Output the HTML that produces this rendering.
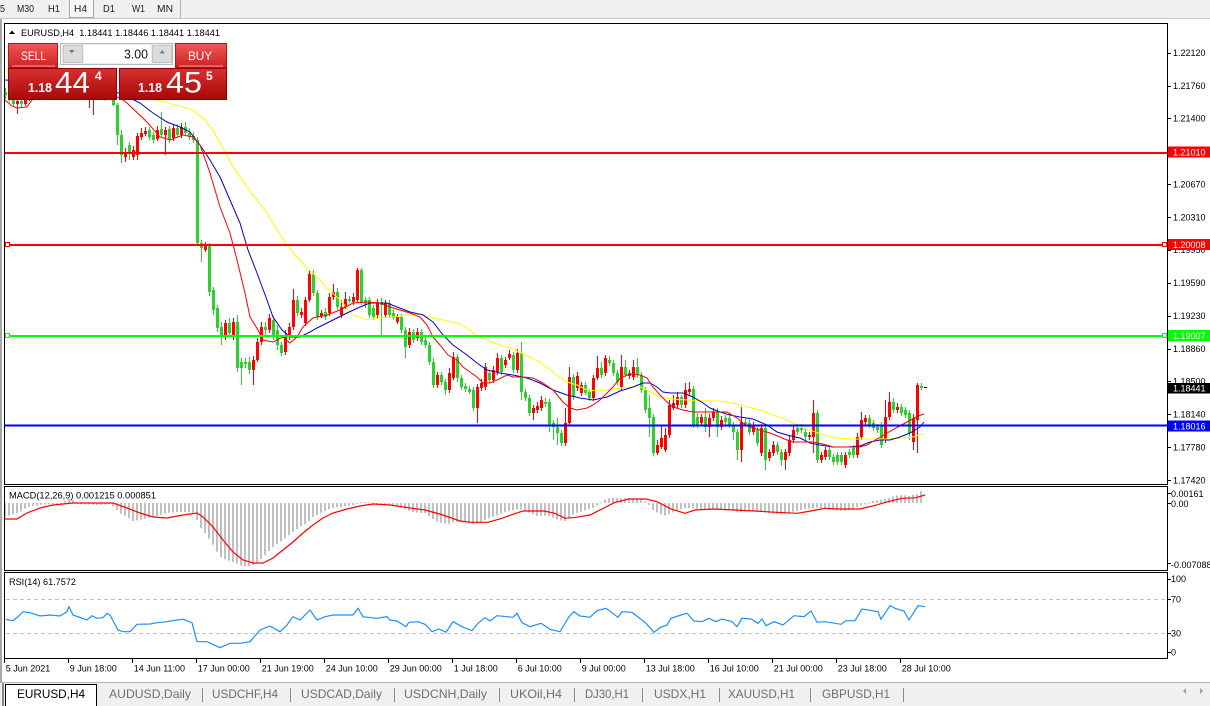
<!DOCTYPE html>
<html><head><meta charset="utf-8">
<style>
html,body{margin:0;padding:0;width:1210px;height:706px;overflow:hidden;background:#fff;}
svg text{font-family:"Liberation Sans",sans-serif;}
</style></head><body>
<svg id="s" width="1210" height="706" viewBox="0 0 1210 706" xmlns="http://www.w3.org/2000/svg">
<defs>
<clipPath id="cm"><rect x="5" y="24" width="1162" height="460"/></clipPath>
<clipPath id="cmd"><rect x="5" y="487" width="1162" height="83"/></clipPath>
<clipPath id="crs"><rect x="5" y="573" width="1162" height="85"/></clipPath>
<linearGradient id="gb" x1="0" y1="0" x2="0" y2="1"><stop offset="0" stop-color="#F25656"/><stop offset="1" stop-color="#CC2222"/></linearGradient>
<linearGradient id="gp" x1="0" y1="0" x2="0" y2="1"><stop offset="0" stop-color="#D93030"/><stop offset="1" stop-color="#A80808"/></linearGradient>
</defs>

<!-- toolbar -->
<rect x="0" y="0" width="1210" height="18" fill="#F0F0F0"/>
<line x1="0" y1="18.5" x2="1210" y2="18.5" stroke="#C8C8C8"/>
<rect x="69.5" y="-0.5" width="24" height="18" fill="#F6F6F6" stroke="#A8A8A8"/>
<line x1="180.5" y1="0" x2="180.5" y2="18" stroke="#B0B0B0"/>
<g font-size="10.5" fill="#202020">
<text x="-5" y="12" textLength="10" lengthAdjust="spacingAndGlyphs">15</text>
<text x="17" y="12" textLength="17" lengthAdjust="spacingAndGlyphs">M30</text>
<text x="48" y="12" textLength="12" lengthAdjust="spacingAndGlyphs">H1</text>
<text x="74" y="12" textLength="13" lengthAdjust="spacingAndGlyphs">H4</text>
<text x="103" y="12" textLength="12" lengthAdjust="spacingAndGlyphs">D1</text>
<text x="132" y="12" textLength="13" lengthAdjust="spacingAndGlyphs">W1</text>
<text x="157" y="12" textLength="16" lengthAdjust="spacingAndGlyphs">MN</text>
</g>

<!-- left window border -->
<rect x="0" y="19" width="2" height="663" fill="#A8A8A8"/>

<!-- panel frames -->
<rect x="4.5" y="23.5" width="1163" height="461" fill="none" stroke="#000"/>
<rect x="4.5" y="486.5" width="1163" height="84" fill="none" stroke="#000"/>
<rect x="4.5" y="572.5" width="1163" height="86" fill="none" stroke="#000"/>

<!-- RSI levels -->
<g stroke="#C0C0C0" stroke-dasharray="4,3">
<line x1="6" y1="599.5" x2="1167" y2="599.5"/>
<line x1="6" y1="633.5" x2="1167" y2="633.5"/>
</g>

<g id="macd" clip-path="url(#cmd)"></g>
<g id="rsi" clip-path="url(#crs)"></g>
<g id="main" clip-path="url(#cm)"></g>

<!-- horizontal lines -->
<g clip-path="url(#cm)">
<rect x="5" y="152" width="1162" height="2" fill="#FF0000"/>
<rect x="5" y="244" width="1162" height="2" fill="#FF0000"/>
<rect x="5" y="335" width="1162" height="2" fill="#00FF00"/>
<rect x="5" y="424.5" width="1162" height="2" fill="#0000FF"/>
<rect x="5.5" y="242.5" width="4" height="4" fill="#fff" stroke="#FF0000"/>
<rect x="1162.5" y="242.5" width="4" height="4" fill="#fff" stroke="#FF0000"/>
<rect x="5.5" y="333.5" width="4" height="4" fill="#fff" stroke="#00FF00"/>
<rect x="1162.5" y="333.5" width="4" height="4" fill="#fff" stroke="#00FF00"/>
<rect x="924" y="387" width="3" height="1" fill="#000"/>
</g>

<!-- header -->
<polygon points="9,34 15,34 12,30.5" fill="#000"/>
<text x="21" y="36" font-size="9" fill="#000" textLength="199" lengthAdjust="spacingAndGlyphs" xml:space="preserve">EURUSD,H4  1.18441 1.18446 1.18441 1.18441</text>

<!-- trade panel -->
<rect x="8.5" y="43.5" width="49" height="24" fill="url(#gb)" stroke="#B01818"/>
<line x1="12" y1="66" x2="55" y2="66" stroke="#F4A0A0"/>
<text x="21" y="60" font-size="12" fill="#fff" textLength="25" lengthAdjust="spacingAndGlyphs">SELL</text>
<rect x="175.5" y="43.5" width="51" height="24" fill="url(#gb)" stroke="#B01818"/>
<line x1="179" y1="66" x2="223" y2="66" stroke="#F4A0A0"/>
<text x="188" y="60" font-size="12" fill="#fff" textLength="24" lengthAdjust="spacingAndGlyphs">BUY</text>
<rect x="60.5" y="43.5" width="112" height="21" fill="#EEEEEE" stroke="#B8B8B8"/>
<rect x="63.5" y="45.5" width="19" height="17" fill="#DCDCDC" stroke="#C4C4C4"/>
<rect x="84" y="45" width="67" height="18" fill="#fff"/>
<rect x="152.5" y="45.5" width="19" height="17" fill="#DCDCDC" stroke="#C4C4C4"/>
<polygon points="69,50 74.5,50 71.7,53.5" fill="#6A78A8"/>
<polygon points="159.5,53.5 165,53.5 162.2,50" fill="#6A78A8"/>
<text x="124" y="58.5" font-size="12.5" fill="#111" textLength="24" lengthAdjust="spacingAndGlyphs">3.00</text>
<rect x="8.5" y="68.5" width="108" height="31" fill="url(#gp)" stroke="#8C0000"/>
<rect x="119.5" y="68.5" width="107" height="31" fill="url(#gp)" stroke="#8C0000"/>
<g fill="#fff">
<text x="28" y="92" font-size="13" font-weight="bold" textLength="24" lengthAdjust="spacingAndGlyphs">1.18</text>
<text x="55" y="92.5" font-size="30" textLength="35" lengthAdjust="spacingAndGlyphs">44</text>
<text x="95" y="80" font-size="12" font-weight="bold">4</text>
<text x="138" y="92" font-size="13" font-weight="bold" textLength="24" lengthAdjust="spacingAndGlyphs">1.18</text>
<text x="166" y="92.5" font-size="30" textLength="36" lengthAdjust="spacingAndGlyphs">45</text>
<text x="206" y="80" font-size="12" font-weight="bold">5</text>
</g>

<!-- price axis -->
<g id="pax" font-size="9" fill="#000"></g>
<g font-size="9" fill="#fff">
<rect x="1168" y="146.5" width="42" height="11" fill="#FF0000"/><text x="1173" y="155.5">1.21010</text>
<rect x="1168" y="239" width="42" height="11" fill="#FF0000"/><text x="1173" y="248">1.20008</text>
<rect x="1168" y="330" width="42" height="11" fill="#00FF00"/><text x="1173" y="339">1.19007</text>
<rect x="1168" y="383" width="42" height="10.5" fill="#000"/><text x="1173" y="391.7">1.18441</text>
<rect x="1168" y="420.5" width="42" height="11" fill="#0000FF"/><text x="1173" y="429.5">1.18016</text>
</g>
<g font-size="9" fill="#000">
<text x="9" y="498.5" textLength="147" lengthAdjust="spacingAndGlyphs">MACD(12,26,9) 0.001215 0.000851</text>
<text x="9" y="585" textLength="67" lengthAdjust="spacingAndGlyphs">RSI(14) 61.7572</text>
<text x="1171" y="497">0.00161</text>
<text x="1171" y="507">0.00</text>
<text x="1171" y="568">-0.007088</text>
<text x="1171" y="582">100</text>
<text x="1171" y="602.5">70</text>
<text x="1171" y="636.5">30</text>
<text x="1171" y="655.5">0</text>
</g>
<g stroke="#000">
<line x1="1168" y1="493.5" x2="1171" y2="493.5"/>
<line x1="1168" y1="503.5" x2="1171" y2="503.5"/>
<line x1="1168" y1="563.5" x2="1171" y2="563.5"/>
<line x1="1168" y1="579.5" x2="1171" y2="579.5"/>
<line x1="1168" y1="599.5" x2="1171" y2="599.5"/>
<line x1="1168" y1="633.5" x2="1171" y2="633.5"/>
<line x1="1168" y1="652.5" x2="1171" y2="652.5"/>
</g>

<!-- time axis -->
<g id="tax" font-size="9" fill="#000"></g>

<!-- tabs -->
<rect x="0" y="682" width="1210" height="24" fill="#F0F0F0"/>
<line x1="0" y1="682.5" x2="1210" y2="682.5" stroke="#B4B4B4"/>
<rect x="2" y="683" width="2" height="23" fill="#888"/>
<rect x="5.5" y="684.5" width="91" height="22" fill="#fff" stroke="#000"/>
<g font-size="12" fill="#6E6E6E">
<text x="17" y="698" fill="#000" textLength="68" lengthAdjust="spacingAndGlyphs">EURUSD,H4</text>
<text x="109" y="698" textLength="82" lengthAdjust="spacingAndGlyphs">AUDUSD,Daily</text>
<text x="212" y="698" textLength="66" lengthAdjust="spacingAndGlyphs">USDCHF,H4</text>
<text x="301" y="698" textLength="81" lengthAdjust="spacingAndGlyphs">USDCAD,Daily</text>
<text x="404" y="698" textLength="83" lengthAdjust="spacingAndGlyphs">USDCNH,Daily</text>
<text x="510" y="698" textLength="52" lengthAdjust="spacingAndGlyphs">UKOil,H4</text>
<text x="585" y="698" textLength="44" lengthAdjust="spacingAndGlyphs">DJ30,H1</text>
<text x="654" y="698" textLength="52" lengthAdjust="spacingAndGlyphs">USDX,H1</text>
<text x="728" y="698" textLength="67" lengthAdjust="spacingAndGlyphs">XAUUSD,H1</text>
<text x="822" y="698" textLength="68" lengthAdjust="spacingAndGlyphs">GBPUSD,H1</text>
</g>
<g stroke="#8A8A8A">
<line x1="202.5" y1="688" x2="202.5" y2="702"/><line x1="290.5" y1="688" x2="290.5" y2="702"/>
<line x1="394.5" y1="688" x2="394.5" y2="702"/><line x1="499.5" y1="688" x2="499.5" y2="702"/>
<line x1="574.5" y1="688" x2="574.5" y2="702"/><line x1="642.5" y1="688" x2="642.5" y2="702"/>
<line x1="719.5" y1="688" x2="719.5" y2="702"/><line x1="810.5" y1="688" x2="810.5" y2="702"/>
<line x1="903.5" y1="688" x2="903.5" y2="702"/>
</g>
<polygon points="1186,688 1186,694 1183,691" fill="#A0A0A0"/>
<polygon points="1200,688 1200,694 1203,691" fill="#A0A0A0"/>
</svg>
<script>
(function(){
var NS="http://www.w3.org/2000/svg";
function el(p,t,a,txt){var e=document.createElementNS(NS,t);for(var k in a)e.setAttribute(k,a[k]);if(txt!==undefined)e.textContent=txt;p.appendChild(e);return e;}
function interp(P,x){if(x<=P[0][0])return P[0][1];for(var i=1;i<P.length;i++){if(x<=P[i][0]){var a=P[i-1],b=P[i];return a[1]+(b[1]-a[1])*(x-a[0])/(b[0]-a[0]);}}return P[P.length-1][1];}
function pts(P){return P.map(function(p){return p[0]+","+p[1];}).join(" ");}
var C=[[5,92,95,88,99],[9,95,98,90,102],[13,98,104,94,107],[17,104,101,97,114],[21,101,104,96,108],[25,104,99,95,106],[29,99,94,90,101],[33,94,90,86,96],[37,90,92,85,95],[41,92,88,84,94],[45,88,85,80,90],[49,85,87,81,90],[53,87,82,78,89],[57,82,84,79,87],[61,84,88,80,90],[65,88,86,83,92],[69,86,90,84,94],[73,90,92,87,96],[77,92,89,85,95],[81,89,93,86,97],[85,93,96,90,99],[89,100,96,92,108],[93,96,94,90,115],[97,94,97,90,100],[101,97,95,91,99],[105,95,98,92,101],[109,98,96,93,100],[113,100,105,98,106],[117,105,135,103,145],[121,135,155,130,163],[125,157,152,148,162],[129,145,153,142,160],[133,157,150,146,160],[137,155,136,133,160],[141,137,133,128,140],[145,134,131,127,136],[149,130,137,127,140],[153,135,140,132,143],[157,139,130,126,141],[161,129,135,112,138],[165,135,130,127,155],[169,129,140,126,143],[173,138,128,125,141],[177,128,135,124,137],[181,135,127,123,138],[185,127,133,122,136],[189,133,137,128,140],[193,136,140,132,143],[197,140,243,137,246],
[201,243,248,240,262],[205,250,245,242,252],[209,245,292,243,296],[213,290,310,287,315],[217,308,328,305,332],[221,327,337,322,345],[225,337,323,320,340],[229,323,333,318,336],[233,337,322,318,340],[237,322,368,315,372],[241,362,368,358,385],[245,362,364,358,368],[249,362,370,357,374],[253,370,360,356,385],[257,360,342,338,362],[261,342,327,322,345],[265,327,330,322,335],[269,330,318,314,333],[273,320,337,316,340],[277,330,345,325,350],[281,345,353,342,356],[285,352,335,330,355],[289,337,327,323,340],[293,327,300,289,330],[297,300,313,296,316],[301,315,312,308,318],[305,323,300,297,326],[309,300,274,270,302],[313,274,293,270,296],[317,293,317,290,320],[321,316,313,310,318],[325,312,317,308,320],[329,313,297,293,316],[333,297,292,284,300],[337,292,307,288,310],[341,315,307,300,318],[345,307,299,292,309],[349,299,301,296,303],[353,302,297,293,305],[357,300,270,268,302],[361,270,303,268,305],[365,300,305,297,308],[369,300,315,297,318],[373,308,317,305,320],[377,315,302,299,318],[381,302,305,298,335],[385,315,303,300,318],[389,303,315,300,318],[393,313,318,310,320],[397,322,317,314,324],[401,317,330,314,333],[405,330,347,327,358],[409,345,332,328,348],[413,332,340,329,343],[417,338,332,328,341],[421,332,342,329,345],[425,340,345,337,348],[429,345,362,342,365],[433,362,385,358,388],[437,385,375,372,388],[441,375,382,372,385],[445,382,390,379,395],[449,390,373,368,393],[453,378,357,352,380],[457,357,378,354,382],[461,378,387,375,390],[465,386,389,383,392],[469,389,392,386,394],[473,390,408,387,411],[477,408,387,384,423],[481,388,383,379,391],[485,387,367,363,390],[489,373,380,370,383],[493,380,370,366,383],[497,372,358,353,375],[501,358,372,355,375],[505,365,360,357,368],[509,358,354,350,360],[513,355,370,352,373],[517,370,353,349,373],[521,353,392,342,400],[525,392,398,389,401],[529,398,413,395,416],[533,413,408,405,420],[537,410,406,402,413],[541,408,400,396,411],[545,402,404,398,407],[549,402,425,399,432],[553,423,427,420,440],[557,427,433,418,445],[561,433,443,430,446],[565,443,423,408,446],[569,423,377,367,425],[573,377,397,374,400],[577,388,376,372,391],[581,393,385,382,396],[585,385,393,382,395],[589,392,398,389,401],[593,398,378,375,401],[597,378,368,356,380],[601,368,375,362,378],[605,373,358,355,376],[609,360,363,356,366],[613,363,373,360,376],[617,373,382,370,385],[621,387,367,355,390],[625,367,375,360,377],[629,376,373,370,379],[633,377,367,360,380],[637,367,375,358,378],[641,375,390,372,393],[645,390,410,387,413],[649,408,418,395,437],[653,417,453,414,456],[657,453,445,440,455],[661,447,438,425,449],[665,450,435,428,452],[669,435,405,400,438],[673,408,403,395,410],[677,405,397,392,408],[681,397,405,395,408],[685,405,390,383,408],[689,392,389,382,395],[693,389,425,386,428],[697,417,425,413,428],[701,423,417,414,426],[705,417,427,408,432],[709,427,418,414,437],[713,418,412,408,421],[717,412,427,408,437],[721,427,420,416,430],[725,418,422,415,425],[729,418,425,414,428],[733,425,432,422,440],[737,432,450,429,460],[741,450,422,407,462],[745,422,424,419,426],[749,423,432,420,435],[753,432,425,422,435],[757,430,443,427,446],[761,453,428,424,456],[765,428,460,425,470],[769,458,452,449,461],[773,453,445,441,456],[777,445,452,442,455],[781,452,460,449,466],[785,460,452,449,470],[789,453,440,436,456],[793,440,430,426,443],[797,428,432,424,435],[801,428,430,424,433],[805,432,437,428,440],[809,437,435,432,440],[813,437,413,400,453],[817,413,460,410,463],[821,460,455,452,463],[825,457,450,447,460],[829,450,457,447,460],[833,457,462,454,465],[837,455,462,452,465],[841,455,462,452,465],[845,465,455,452,468],[849,452,455,449,458],[853,448,455,445,458],[857,455,437,433,458],[861,437,420,412,440],[865,422,418,415,425],[869,418,425,415,428],[873,423,428,420,431],[877,427,430,424,433],[881,425,445,422,448],[885,440,417,400,443],[889,417,402,392,420],[893,402,410,398,413],[897,410,407,403,413],[901,407,413,404,416],[905,410,415,407,418],[909,413,433,410,440],[913,442,418,414,450],[917,420,385,383,453],[921,386,388,383,390]];
var main=document.getElementById('main');
var rw='',rb='',gw='',gbd='';
C.forEach(function(c){var x=c[0],o=c[1],cl=c[2],h=c[3],l=c[4];var t=Math.min(o,cl),b=Math.max(o,cl),hh=Math.max(b-t,1);
var w='M'+(x+0.5)+','+h+'V'+l;var bd='M'+(x-1)+','+t+'h3v'+hh+'h-3z';
if(cl<o){rw+=w;rb+=bd;}else{gw+=w;gbd+=bd;}});
el(main,'path',{d:gw,stroke:'#32CD32','stroke-width':1,fill:'none'});
el(main,'path',{d:gbd,fill:'#32CD32'});
el(main,'path',{d:rw,stroke:'#FF0000','stroke-width':1,fill:'none'});
el(main,'path',{d:rb,fill:'#FF0000'});
var Y=[[5,70],[100,85],[150,98],[168,103],[183,107],[193,110],[203,118],[213,130],[223,148],[233,167],[247,187],[257,200],[267,213],[277,230],[287,245],[297,257],[307,268],[317,277],[327,288],[340,300],[353,315],[367,320],[380,318],[393,317],[407,315],[420,314],[433,318],[447,321],[460,324],[470,330],[477,336],[487,340],[500,345],[513,349],[527,356],[540,362],[553,372],[567,382],[577,385],[587,390],[600,391],[613,389],[627,387],[640,387],[647,390],[660,397],[673,399],[687,400],[707,401],[720,401],[733,403],[747,407],[760,410],[773,415],[787,420],[797,425],[810,430],[823,435],[837,438],[853,439],[870,439],[887,439],[903,438],[913,437],[924,433]];
var B=[[5,80],[100,85],[130,98],[140,103],[153,113],[167,122],[180,127],[190,132],[200,145],[210,160],[220,177],[230,200],[240,223],[248,250],[257,273],[267,300],[273,317],[282,330],[290,337],[300,337],[310,332],[317,328],[333,320],[347,313],[360,307],[370,303],[387,303],[397,307],[410,312],[423,315],[433,322],[443,335],[453,345],[467,355],[477,363],[487,370],[500,373],[513,375],[527,378],[540,383],[553,390],[567,395],[580,398],[593,400],[607,397],[620,391],[633,387],[643,383],[650,383],[657,387],[663,392],[670,393],[683,393],[693,397],[703,403],[710,408],[720,412],[730,415],[740,417],[753,419],[767,425],[777,432],[787,435],[800,438],[810,443],[820,445],[833,447],[847,447],[860,446],[870,442],[880,440],[890,440],[900,437],[910,433],[920,427],[924,422]];
var R=[[5,100],[12,106],[17,108],[27,107],[32,100],[60,88],[100,92],[120,98],[127,103],[147,122],[160,137],[170,140],[183,135],[193,137],[200,145],[210,173],[220,207],[230,233],[237,260],[245,293],[250,317],[258,330],[263,340],[273,342],[283,337],[290,343],[297,337],[303,327],[313,318],[327,315],[340,310],[353,303],[367,302],[380,303],[390,307],[400,310],[410,313],[420,317],[427,325],[433,337],[440,345],[448,355],[457,360],[463,367],[470,372],[477,377],[483,383],[490,383],[497,380],[507,375],[513,377],[523,377],[533,378],[543,383],[553,390],[563,402],[570,408],[577,410],[587,408],[593,405],[600,400],[607,393],[613,387],[620,378],[630,374],[640,375],[647,378],[653,387],[660,395],[667,402],[673,407],[683,410],[693,412],[727,412],[737,418],[743,423],[750,427],[760,430],[770,433],[780,437],[787,440],[793,442],[813,442],[823,444],[833,447],[860,447],[867,445],[887,433],[907,422],[918,416],[924,414]];
el(main,'polyline',{points:pts(Y),fill:'none',stroke:'#FFFF00','stroke-width':1});
el(main,'polyline',{points:pts(B),fill:'none',stroke:'#0000CD','stroke-width':1});
el(main,'polyline',{points:pts(R),fill:'none',stroke:'#FF0000','stroke-width':1});
// MACD
var H=[[5,517],[17,513],[22,511],[27,507],[33,506],[40,505],[50,504],[62,503.5],[68,499],[72,499],[76,504],[100,505],[110,504],[115,508],[120,513],[127,517],[133,521],[140,520],[147,518],[153,517],[160,515],[167,513],[180,512],[190,512],[195,513],[197,520],[200,527],[205,533],[210,540],[215,548],[220,557],[227,560],[233,562],[240,565],[247,567],[253,565],[260,560],[267,553],[273,547],[280,542],[287,537],[293,532],[300,527],[307,523],[313,517],[320,513],[327,510],[333,508],[340,507],[347,506],[353,505],[358,503],[362,502],[370,502.5],[380,505],[390,505.7],[397,505.7],[404,509],[411,511.7],[418,512.7],[425,513.3],[432,518.3],[437,521.7],[443,523.3],[448,524],[453,522.3],[460,521.7],[465,521.7],[472,524.3],[478,523.3],[485,520],[492,517.3],[499,514.3],[506,511.7],[513,510.3],[518,509],[523,510],[530,513.3],[537,515.7],[544,515.7],[551,516.7],[558,520],[565,521],[572,515],[580,511.7],[587,510],[594,507.7],[599,504],[604,500],[609,498.3],[615,497.7],[622,498.3],[629,497.7],[636,498.3],[643,500],[650,505.7],[653,510],[658,513.3],[664,515.7],[671,513.3],[678,510],[685,508.3],[692,508.3],[699,509],[706,510],[713,509],[720,509],[727,510],[734,511],[741,512.3],[748,511],[755,511],[762,512.3],[769,513.3],[776,514],[783,514.3],[790,512.3],[797,511],[804,509.3],[811,508.3],[818,507.7],[825,509],[832,510],[839,511],[846,511],[853,509],[860,505.7],[867,503.3],[873,501],[880,500],[885,499],[890,497.7],[895,495.7],[902,495],[909,495.7],[917,494.3],[921,491]];
var md=document.getElementById('macd');var hp='';
for(var x=5;x<=921;x+=4){var v=interp(H,x);var t=Math.min(503,v),hh=Math.max(Math.abs(v-503),1);hp+='M'+(x-1)+','+t.toFixed(1)+'h2v'+hh.toFixed(1)+'h-2z';}
el(md,'path',{d:hp,fill:'#C0C0C0'});
var S=[[5,519],[17,519],[27,513],[40,508],[53,505],[73,503],[100,503],[113,503],[127,508],[140,513],[153,517],[167,518],[183,515],[197,513],[203,517],[213,527],[223,540],[233,552],[243,560],[253,563],[263,563],[273,558],[283,550],[293,542],[303,533],[313,525],[323,518],[333,513],[347,509],[360,506],[373,504],[390,505],[408,507.7],[425,510],[443,515],[460,521],[471,522.3],[488,522.3],[502,518.3],[516,513.3],[523,511],[544,511],[555,513.3],[565,518.3],[576,517.3],[590,515],[600,510],[615,502.3],[629,499],[646,499],[657,501.7],[671,509],[685,513.3],[695,510],[713,509],[734,510],[755,511],[776,512.3],[797,513.3],[811,511],[825,508.3],[839,509],[860,509],[874,505.7],[888,501.7],[902,498.3],[916,497.7],[925,495]];
el(md,'polyline',{points:pts(S),fill:'none',stroke:'#FF0000','stroke-width':1.2});
var RS=[[6,619.3],[13,620.7],[18,616.7],[23,611.7],[30,612.7],[40,616],[50,615],[60,616],[67,611.7],[69,606.7],[73,615],[87,620],[92,615.7],[97,618.3],[103,617.7],[107,613.3],[110,615],[118,630],[123,631.7],[130,631.7],[137,624.3],[150,624],[157,622.7],[167,621.7],[177,620],[183,619.3],[192,622.7],[197,641.7],[207,641.7],[220,647.7],[230,643.3],[240,643.3],[250,641.7],[260,630],[270,626],[280,631.7],[287,625],[293,616.7],[300,620],[310,610],[317,620],[325,616.7],[333,615],[343,615],[353,615],[358,608.3],[363,616.7],[377,618.3],[387,616.7],[390,620],[397,621],[406,626.7],[409,622.3],[418,621.7],[425,624.3],[432,631.7],[439,629],[446,632.3],[453,621.7],[462,626.7],[472,630.7],[478,623.3],[485,617.7],[490,621],[497,615.7],[513,617.3],[517,613.3],[522,622.7],[530,626.7],[541,623.3],[550,629.3],[560,631.7],[569,616.7],[574,611.7],[580,616],[590,617.3],[597,610.7],[606,608.3],[618,617.3],[622,611.7],[632,612.3],[646,623.3],[654,632.3],[660,627.7],[667,625],[671,618.3],[681,615],[687,613.3],[694,621],[702,621.7],[709,618.3],[716,621.7],[722,619],[732,621.7],[737,626.7],[742,618.3],[751,619],[758,623.3],[762,619],[766,625.7],[774,621.7],[783,625],[794,615.7],[804,616.7],[811,611],[817,622.3],[825,621.7],[841,624.3],[846,620.7],[855,620.7],[862,609],[878,611.7],[881,619.3],[890,605.7],[895,608.3],[904,611],[909,620],[918,605.7],[925,606.7]];
el(document.getElementById('rsi'),'polyline',{points:pts(RS),fill:'none',stroke:'#1E90FF','stroke-width':1.2});
// price axis
var pax=document.getElementById('pax');
var L=["1.22120","1.21760","1.21400","1.21040","1.20670","1.20310","1.19950","1.19590","1.19230","1.18860","1.18500","1.18140","1.17780","1.17420"];
L.forEach(function(s,k){var y=52.7+k*32.87;el(pax,'line',{x1:1168,x2:1171,y1:Math.round(y)+0.5,y2:Math.round(y)+0.5,stroke:'#000'});el(pax,'text',{x:1173,y:(y+3.3).toFixed(1)},s);});
// time axis
var tax=document.getElementById('tax');
var T=["5 Jun 2021","9 Jun 18:00","14 Jun 11:00","17 Jun 00:00","21 Jun 19:00","24 Jun 10:00","29 Jun 00:00","1 Jul 18:00","6 Jul 10:00","9 Jul 00:00","13 Jul 18:00","16 Jul 10:00","21 Jul 00:00","23 Jul 18:00","28 Jul 10:00"];
T.forEach(function(s,k){var x=4.5+64*k;el(tax,'line',{x1:x,x2:x,y1:659,y2:663,stroke:'#000'});el(tax,'text',{x:x+1.2,y:671.5},s);});
})();
</script>
</body></html>
